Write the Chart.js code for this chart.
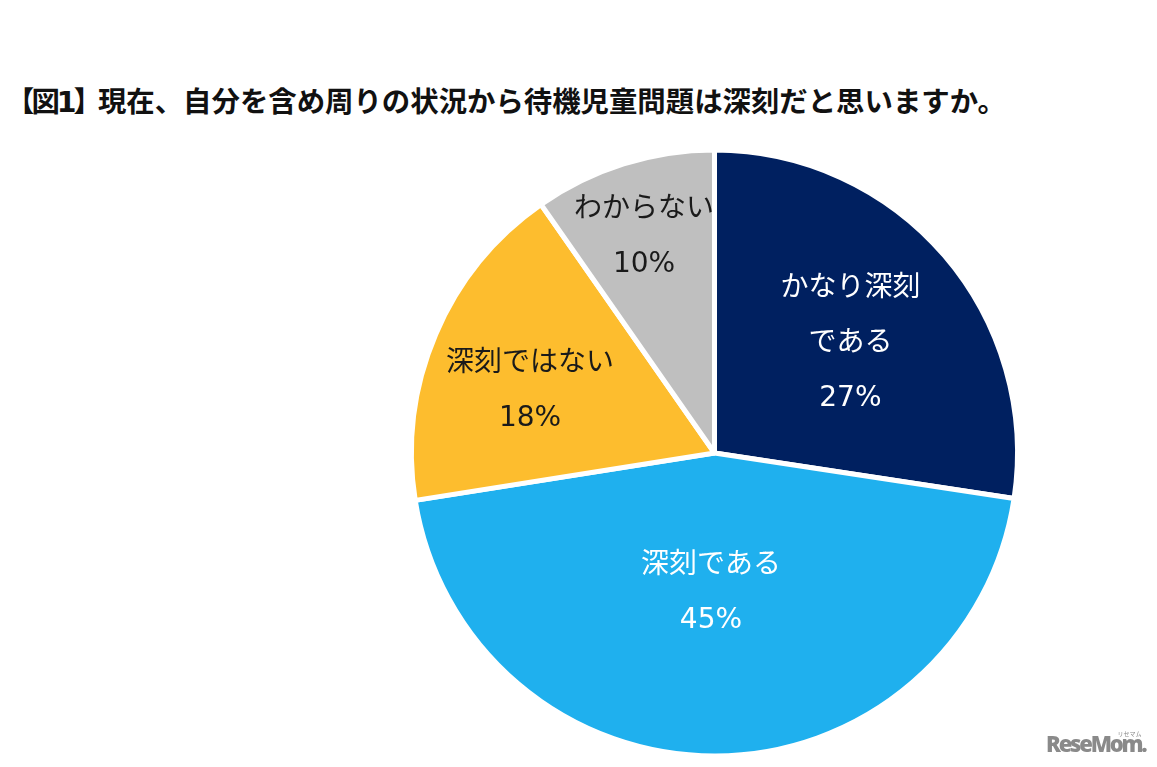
<!DOCTYPE html>
<html lang="ja">
<head>
<meta charset="utf-8">
<title>待機児童問題</title>
<script src="https://cdn.jsdelivr.net/npm/chart.js@4"></script>
<style>
    html, body { margin: 0; padding: 0; background: #fff; }
    .wrap { position: relative; width: 1157px; height: 767px; overflow: hidden; }
    canvas { position: absolute; left: 0; top: 0; }
    h1 {
        position: absolute; left: 6px; top: 79px; margin: 0;
        font: bold 28.4px "DejaVu Sans", "Noto Sans CJK JP", sans-serif;
        color: #111; white-space: nowrap;
    }
    h1 span { letter-spacing: -3px; margin-right: -1px; }
    .logo {
        position: absolute; left: 1046px; top: 728px;
        font: 800 22px "Open Sans", sans-serif; letter-spacing: -2.2px; color: #8a8a8a;
    }
    .logo small {
        position: absolute; right: 4px; top: 1px;
        font: 6px "Noto Sans CJK JP", sans-serif; letter-spacing: 0;
    }
</style>
</head>
<body>
<div class="wrap">
    <h1><span>【図1】</span>現在、自分を含め周りの状況から待機児童問題は深刻だと思いますか。</h1>
    <canvas id="pieChart" width="1157" height="767"></canvas>
    <div class="logo">ReseMom.<small>リセマム</small></div>
</div>
<script>
    // ── Data ───────────────────────────────────
    const categories = [['かなり深刻', 'である'], ['深刻である'], ['深刻ではない'], ['わからない']];
    const values = [27.4, 45.1, 17.8, 9.7];
    const percentLabels = ['27%', '45%', '18%', '10%'];
    const sliceColors = ['#002060', '#1fb0ee', '#fdbd2e', '#bfbfbf'];
    const labelColors = ['#ffffff', '#ffffff', '#1a1a1a', '#1a1a1a'];

    // label shift from each slice's centre point
    const labelOffsets = [[21, -11], [-4, -11], [-45, -2], [-25, -71]];

    // ── Slice labels ───────────────────────────
    const sliceLabels = {
        id: 'sliceLabels',
        afterDatasetsDraw(chart) {
            const ctx = chart.ctx;
            const lineGap = 55;
            ctx.save();
            ctx.font = '28px "DejaVu Sans", "Noto Sans CJK JP", sans-serif';
            ctx.textAlign = 'center';
            ctx.textBaseline = 'middle';
            chart.getDatasetMeta(0).data.forEach((arc, i) => {
                const c = arc.getCenterPoint();
                const lines = [...categories[i], percentLabels[i]];
                const top = c.y + labelOffsets[i][1] - (lines.length - 1) * lineGap / 2;
                ctx.fillStyle = labelColors[i];
                lines.forEach((line, n) => ctx.fillText(line, c.x + labelOffsets[i][0], top + n * lineGap));
            });
            ctx.restore();
        }
    };

    // ── Chart ──────────────────────────────────
    new Chart(document.getElementById('pieChart').getContext('2d'), {
        type: 'pie',
        data: {
            labels: categories.map(c => c.join('')),
            datasets: [{
                data: values,
                backgroundColor: sliceColors,
                borderColor: '#ffffff',
                borderWidth: 5,
                hoverOffset: 0
            }]
        },
        options: {
            responsive: false,
            animation: false,
            devicePixelRatio: 1,
            layout: { padding: { left: 409, right: 137, top: 147, bottom: 8 } },
            plugins: { legend: { display: false }, tooltip: { enabled: false } }
        },
        plugins: [sliceLabels]
    });
</script>
</body>
</html>
